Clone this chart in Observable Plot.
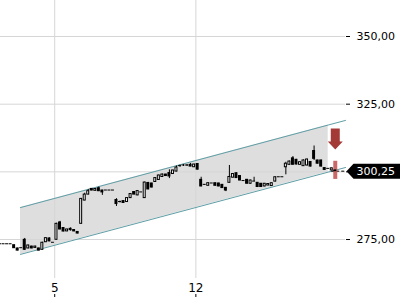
<!DOCTYPE html>
<html><head><meta charset="utf-8">
<script src="https://cdn.jsdelivr.net/npm/d3@7"></script>
<script src="https://cdn.jsdelivr.net/npm/@observablehq/plot@0.6"></script>
<style>html,body{margin:0;padding:0;background:#fff;}</style>
</head><body><div id="chart"></div>
<script>
const opens = [273.25,273.25,273.25,273.25,272.9,271.7,271.8,274.9,271.7,272.4,271.9,271.7,271.2,274.0,275.4,273.8,
274.9,281.3,279.25,278.0,278.95,278.5,277.8,280.8,289.4,291.6,293.7,293.0,293.95,293.1,293.1,293.1,293.1,
289.6,288.85,289.2,288.85,290.3,292.55,291.3,292.4,290.3,295.9,295.7,296.25,297.0,298.1,299.0,299.55,299.2,300.1,302.1,302.35,302.35,302.6,301.7,302.9,
297.05,295.2,294.85,295.7,295.8,295.7,295.2,294.1,295.95,297.85,299.5,298.45,296.6,297.05,295.6,296.4,295.95,295.6,294.6,294.95,294.75,296.4,298.0,298.0,
301.7,302.6,305.0,304.45,302.6,302.1,302.35,303.65,307.7,304.2,304.2,301.4,301.1,300.5,300.5];
const closes = [273.25,273.25,273.25,273.25,271.8,270.9,271.8,271.2,272.8,271.7,272.4,270.9,273.8,275.5,274.3,273.8,
280.8,278.7,277.95,278.7,278.45,278.0,277.2,290.0,291.6,292.85,293.1,293.65,292.85,292.4,293.1,293.1,293.1,
288.1,288.85,288.5,290.3,291.8,291.6,292.9,292.4,296.05,293.5,294.2,297.7,298.65,299.0,298.45,298.3,300.5,301.6,302.1,302.35,302.35,301.95,302.7,300.8,
294.6,295.2,295.8,295.7,294.85,294.6,294.0,293.1,298.1,299.2,297.7,296.8,296.6,295.6,296.8,296.4,294.4,294.4,295.6,295.5,295.8,298.0,298.0,298.0,
303.0,303.8,302.6,302.7,303.55,304.2,304.55,301.95,304.8,303.0,301.95,300.7,301.1,301.3,300.25];
const highs = [273.25,273.25,273.25,273.25,273.0,271.8,271.8,275.4,272.9,272.5,272.5,271.8,274.0,275.7,275.6,273.8,
281.0,281.7,279.4,278.8,279.3,278.6,277.9,290.2,292.1,293.5,293.8,293.8,294.4,293.2,293.1,293.1,293.1,
290.1,289.2,289.3,290.4,292.0,292.7,293.0,292.4,296.2,296.1,295.8,297.9,298.8,299.2,299.1,300.75,300.6,302.15,302.5,302.7,302.7,303.1,302.8,303.0,
298.0,295.3,295.9,295.7,295.9,295.8,295.3,294.2,302.35,299.4,299.6,298.5,296.6,297.2,296.9,298.0,296.0,295.7,295.7,295.6,295.9,298.1,298.0,298.0,
303.55,304.0,305.65,304.6,303.7,304.4,304.7,303.8,309.55,304.3,304.3,301.5,301.1,301.4,300.6];
const lows = [273.25,273.25,273.25,273.25,271.7,270.8,271.8,271.0,271.6,271.6,271.8,270.8,271.1,273.9,274.2,273.8,
274.8,278.6,277.85,277.9,278.1,277.9,277.1,280.7,289.3,291.5,293.0,292.9,292.7,291.3,293.1,293.1,293.1,
287.2,288.5,288.4,288.7,290.2,291.5,291.2,292.4,290.2,293.4,294.1,296.1,296.9,298.0,298.3,297.5,299.1,300.0,301.7,302.0,302.0,301.9,301.6,300.7,
294.5,295.1,294.8,295.7,294.7,294.5,293.9,292.7,295.8,297.7,297.6,296.7,296.6,295.5,295.5,296.4,294.3,294.3,294.5,294.9,294.7,296.3,298.0,298.0,
298.9,302.5,302.5,302.6,302.5,302.0,302.2,301.8,304.2,302.9,301.8,300.6,301.1,300.4,300.2];

const yTicks = [275, 300, 325, 350];
const dayTicks = [15.5, 55.5];
const dayLabels = ["5", "12"];

const channelX = [5.8, 93, 97.9];
const channelUpper = [286.8, 317.3, 319.0];
const channelLower = [269.5, 299.9, 301.6];

const signalIndex = 95;
const signalArrowPrice = 312.1;
const signalBarLow = 297.2;
const signalBarHigh = 303.9;
const lastPrice = 300.25;

const candles = opens.map((o, i) => ({i, o, c: closes[i], h: highs[i], l: lows[i]}));
const ups = candles.filter(d => d.c > d.o);
const downs = candles.filter(d => d.c <= d.o);
const channel = channelX.map((x, k) => ({x, upper: channelUpper[k], lower: channelLower[k]}));
const fmt = d => d.toFixed(2).replace(".", ",");
const labelMap = new Map(dayTicks.map((d, k) => [d, dayLabels[k]]));

const tagSymbol = {draw(ctx) {
  ctx.moveTo(1, 0); ctx.lineTo(8, -7.5); ctx.lineTo(56, -7.5); ctx.lineTo(56, 7.5); ctx.lineTo(8, 7.5); ctx.closePath();
}};
const arrowSymbol = {draw(ctx) {
  ctx.moveTo(-4.5, -10.5); ctx.lineTo(4.5, -10.5); ctx.lineTo(4.5, 2.5); ctx.lineTo(7.5, 2.5);
  ctx.lineTo(0, 10.5); ctx.lineTo(-7.5, 2.5); ctx.lineTo(-4.5, 2.5); ctx.closePath();
}};

const chart = Plot.plot({
  width: 400, height: 300,
  marginLeft: 0, marginRight: 55, marginTop: 0, marginBottom: 22,
  style: {fontFamily: "DejaVu Sans", fontSize: "11px", background: "white", color: "black"},
  x: {domain: [0.14, 97.9], axis: null},
  y: {domain: [260.6, 363.3], axis: null},
  marks: [
    Plot.areaY(channel.slice(0, 2), {x: "x", y1: "lower", y2: "upper", fill: "#9a9a9a", fillOpacity: 0.33}),
    Plot.gridY(yTicks, {stroke: "#d6d6d6", strokeOpacity: 1}),
    Plot.gridX(dayTicks, {stroke: "#d6d6d6", strokeOpacity: 1}),
    Plot.line(channel, {x: "x", y: "upper", stroke: "#5f9ea6", strokeWidth: 1}),
    Plot.line(channel, {x: "x", y: "lower", stroke: "#5f9ea6", strokeWidth: 1}),
    Plot.axisY(yTicks, {anchor: "right", tickSize: 4, tickPadding: 7, tickFormat: fmt, fontSize: 11}),
    Plot.axisX(dayTicks, {anchor: "bottom", tickSize: 0, tickPadding: 4.5, tickFormat: d => labelMap.get(d), fontSize: 12}),
    Plot.axisX(dayTicks, {anchor: "bottom", tickSize: 3, tickFormat: () => "", dy: 16}),
    Plot.ruleY([lastPrice], {x1: signalIndex - 1, x2: 97.9, stroke: "black", strokeDasharray: "3,2"}),
    Plot.ruleX([signalIndex], {x: d => d, y1: signalBarLow, y2: signalBarHigh, stroke: "#c0504d", strokeWidth: 4, strokeOpacity: 0.85}),
    Plot.ruleX(candles, {x: "i", y1: "l", y2: "h", stroke: "black"}),
    Plot.rect(downs, {x1: d => d.i - 0.42, x2: d => d.i + 0.42, y1: "o", y2: "c", fill: "black", insetTop: -0.5, insetBottom: -0.5}),
    Plot.rect(ups, {x1: d => d.i - 0.28, x2: d => d.i + 0.28, y1: "o", y2: "c", fill: "white", stroke: "black", strokeWidth: 1}),
    Plot.dot([signalArrowPrice], {x: () => signalIndex, y: d => d, symbol: arrowSymbol, fill: "#a33a36", stroke: "none", r: 5}),
    Plot.dot([lastPrice], {y: d => d, frameAnchor: "right", symbol: tagSymbol, fill: "black", stroke: "none", r: 5}),
    Plot.text([lastPrice], {y: d => d, frameAnchor: "right", text: d => fmt(d), dx: 11, textAnchor: "start", fill: "white", fontSize: 11})
  ]
});
document.getElementById("chart").appendChild(chart);
</script>
</body></html>
